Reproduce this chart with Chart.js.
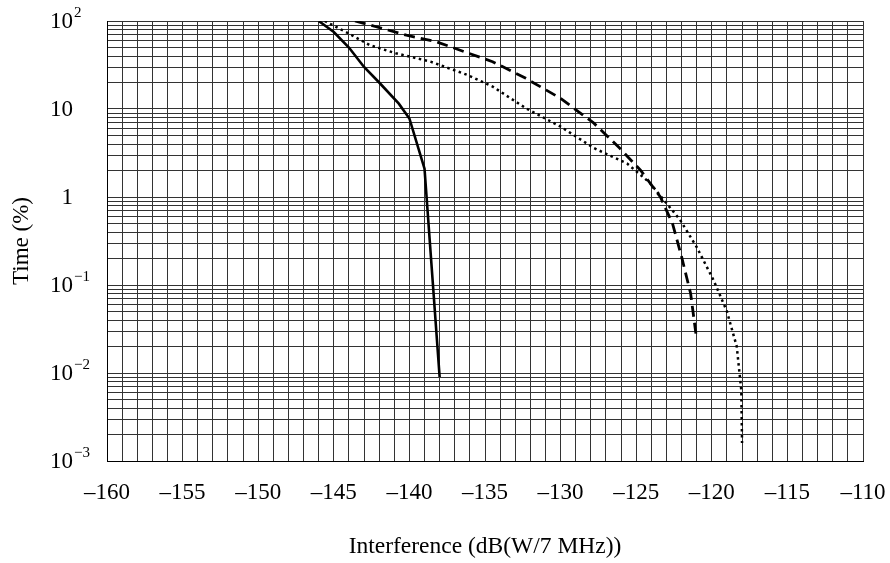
<!DOCTYPE html>
<html>
<head>
<meta charset="utf-8">
<script src="https://cdn.jsdelivr.net/npm/chart.js@4.4.0/dist/chart.umd.min.js"></script>
<style>
  html, body { margin: 0; padding: 0; background: #fff; }
  .wrap { width: 890px; height: 563px; position: relative; }
</style>
</head>
<body>
<div class="wrap"><canvas id="chart"></canvas></div>
<script>
// Interference (dB(W/7 MHz)) vs Time (%)
const solidX = [-146, -145, -144, -143, -142, -140.7, -140, -139, -138];
const solidY = [100, 75, 50, 30, 20, 11.5, 7.8, 2.1, 0.009];

const dashedX = [-143.6, -142.2, -140.2, -138.2, -136.4, -134.5, -132.3, -130, -127.8, -126.1, -124.7, -123.4, -122.6, -122, -121.4, -121];
const dashedY = [100, 86, 69, 58, 45, 34.5, 22.3, 13.2, 6.9, 3.6, 2.0, 1.0, 0.5, 0.21, 0.08, 0.024];

const dottedX = [-145.6, -144.2, -142.6, -140.9, -138.6, -136.2, -134.5, -132.3, -130, -127.8, -125.6, -124.1, -122.1, -121, -119.9, -119, -118.35, -118.05, -118];
const dottedY = [100, 75, 53, 43, 34.5, 24.5, 18, 10.2, 6.3, 3.6, 2.4, 1.45, 0.55, 0.27, 0.115, 0.05, 0.02, 0.0064, 0.0016];

// axes
const xLabelled = [-160, -155, -150, -145, -140, -135, -130, -125, -120, -115, -110];
const yDecades = [0.001, 0.01, 0.1, 1, 10, 100];
const yDecadeBase = ['10', '10', '10', '1', '10', '10'];
const yDecadeExp = ['\u22123', '\u22122', '\u22121', '', '', '2'];

const SERIF = '"Liberation Serif", "Times New Roman", serif';
const FONT = { family: SERIF, size: 23 };
const GRID = '#333';

const toPoints = (xs, ys) => xs.map((x, i) => ({ x, y: ys[i] }));

function logTicks() {
    const out = [];
    yDecades.forEach((d, i) => {
        if (i === yDecades.length - 1) { out.push({ value: d }); return; }
        for (let m = 1; m <= 9; m++) out.push({ value: +(d * m).toPrecision(3) });
    });
    return out;
}

function decadeIndex(v) {
    return yDecades.findIndex(d => Math.abs(d - v) / d < 1e-6);
}

// y labels with real superscripts (10^n)
const powerLabels = {
    id: 'powerLabels',
    afterDraw(chart) {
        const ctx = chart.ctx;
        const y = chart.scales.y;
        ctx.save();
        ctx.fillStyle = '#000';
        ctx.textBaseline = 'middle';
        yDecades.forEach((d, i) => {
            const py = y.getPixelForValue(d);
            const base = yDecadeBase[i];
            const exp = yDecadeExp[i];
            ctx.font = '23px ' + SERIF;
            if (!exp) {
                ctx.textAlign = 'right';
                ctx.fillText(base, 73, py + 1);
                return;
            }
            ctx.textAlign = 'left';
            ctx.fillText(base, 50, py + 1);
            const w = ctx.measureText(base).width;
            ctx.font = '15px ' + SERIF;
            ctx.fillText(exp, 50 + w + 1, py - 8);
        });
        ctx.restore();
    }
};

const lineStyle = { borderColor: '#000', backgroundColor: 'transparent', pointRadius: 0, tension: 0, fill: false };

new Chart(document.getElementById('chart'), {
    type: 'line',
    data: {
        datasets: [
            { ...lineStyle, data: toPoints(solidX, solidY), borderWidth: 2.6 },
            { ...lineStyle, data: toPoints(dashedX, dashedY), borderWidth: 2.8, borderDash: [11, 6] },
            { ...lineStyle, data: toPoints(dottedX, dottedY), borderWidth: 2.5, borderDash: [2.5, 3.5] }
        ]
    },
    options: {
        responsive: true,
        maintainAspectRatio: false,
        animation: false,
        layout: { padding: { top: 21, right: 27, bottom: 0, left: 0 } },
        plugins: { legend: { display: false }, tooltip: { enabled: false } },
        scales: {
            x: {
                type: 'linear',
                min: -160,
                max: -110,
                afterFit: s => { s.height = 102; },
                grid: { color: GRID, lineWidth: 1, drawTicks: true, tickLength: 16, tickColor: 'rgba(0,0,0,0)' },
                border: { color: '#000', width: 1 },
                ticks: {
                    stepSize: 1,
                    autoSkip: false,
                    maxRotation: 0,
                    padding: 2,
                    color: '#000',
                    font: FONT,
                    callback: v => xLabelled.includes(v) ? '\u2013' + Math.abs(v) : ''
                },
                title: {
                    display: true,
                    text: 'Interference (dB(W/7 MHz))',
                    color: '#000',
                    font: { family: SERIF, size: 23.5 },
                    padding: { top: 0, bottom: 2 }
                }
            },
            y: {
                type: 'logarithmic',
                min: 0.001,
                max: 100,
                afterFit: s => { s.width = 107; },
                afterBuildTicks: s => { s.ticks = logTicks(); },
                grid: { color: GRID, lineWidth: 1, drawTicks: false },
                border: { color: '#000', width: 1 },
                ticks: {
                    autoSkip: false,
                    padding: 0,
                    color: 'rgba(0,0,0,0)',
                    font: FONT,
                    callback: v => {
                        const i = decadeIndex(v);
                        return i >= 0 ? yDecadeBase[i] + yDecadeExp[i] : '';
                    }
                },
                title: {
                    display: true,
                    text: 'Time (%)',
                    color: '#000',
                    font: { family: SERIF, size: 23 },
                    padding: { top: 8, bottom: 0 }
                }
            }
        }
    },
    plugins: [powerLabels]
});
</script>
</body>
</html>
